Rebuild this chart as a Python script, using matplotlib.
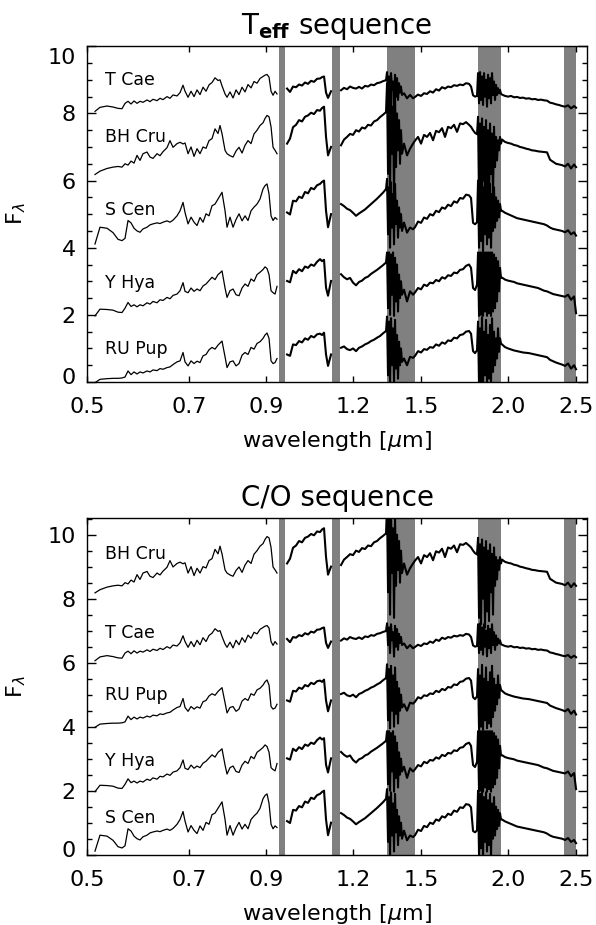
import numpy as np
import matplotlib
matplotlib.use("Agg")
import matplotlib.pyplot as plt
from matplotlib.ticker import FixedLocator, MultipleLocator, NullLocator
from matplotlib.transforms import ScaledTranslation

nan = np.nan

# wavelength grid [micron]; nan entries in the fluxes mark gaps in the data
wavelength = [
    0.5133, 0.5218, 0.5340, 0.5446, 0.5537, 0.5610, 0.5666, 0.5722, 0.5779, 0.5836,
    0.5894, 0.5952, 0.6011, 0.6091, 0.6151, 0.6212, 0.6295, 0.6357, 0.6420, 0.6505,
    0.6569, 0.6635, 0.6723, 0.6790, 0.6857, 0.6902, 0.6971, 0.7040, 0.7110, 0.7180,
    0.7251, 0.7323, 0.7396, 0.7469, 0.7543, 0.7618, 0.7693, 0.7744, 0.7795, 0.7873,
    0.7925, 0.8003, 0.8083, 0.8163, 0.8244, 0.8326, 0.8408, 0.8491, 0.8576, 0.8661,
    0.8747, 0.8833, 0.8921, 0.8980, 0.9039, 0.9099, 0.9159, 0.9220, 0.9281, 0.9341,
    0.950,
    0.9654, 0.9749, 0.9846, 0.9944, 1.0042, 1.0142, 1.0242, 1.0344, 1.0447, 1.0550,
    1.0655, 1.0760, 1.0831, 1.0903, 1.0975, 1.1047, 1.1157,
    1.135,
    1.1530, 1.1644, 1.1760, 1.1877, 1.1994, 1.2113, 1.2233, 1.2355, 1.2477, 1.2601,
    1.2726, 1.2852, 1.2980, 1.3108, 1.3238, 1.3370,
    1.3414, 1.3458, 1.3502, 1.3547, 1.3591, 1.3636, 1.3681, 1.3726, 1.3771, 1.3816,
    1.3861, 1.3907, 1.3953, 1.3998, 1.4044, 1.4091, 1.4185, 1.4326, 1.4468, 1.4612,
    1.4708, 1.4854, 1.5001, 1.5150, 1.5300, 1.5452, 1.5605, 1.5760, 1.5916, 1.6074,
    1.6233, 1.6394, 1.6557, 1.6721, 1.6887, 1.7054, 1.7224, 1.7394, 1.7567, 1.7683,
    1.7800, 1.7917, 1.8035,
    1.8095, 1.8154, 1.8214, 1.8274, 1.8334, 1.8394, 1.8455, 1.8515, 1.8576, 1.8637,
    1.8699, 1.8760, 1.8822, 1.8884, 1.8946, 1.9008, 1.9071, 1.9134, 1.9197, 1.9260,
    1.9323, 1.9387, 1.9451, 1.9515,
    1.9581, 1.9776, 1.9972, 2.0170, 2.0370, 2.0572, 2.0776, 2.0982, 2.1190, 2.1400,
    2.1612, 2.1827, 2.2043, 2.2262, 2.2483, 2.2706, 2.2931, 2.3158, 2.3388, 2.3620,
    2.3854, 2.4091, 2.4330, 2.4571, 2.4815, 2.4979,
]

# fluxes without vertical offset
t_cae = [
    0.06, 0.18, 0.22, 0.19, 0.15, 0.14, 0.30, 0.36, 0.28, 0.37,
    0.30, 0.36, 0.33, 0.40, 0.35, 0.42, 0.38, 0.45, 0.41, 0.50,
    0.45, 0.55, 0.52, 0.62, 0.84, 0.66, 0.48, 0.66, 0.50, 0.70,
    0.56, 0.78, 0.66, 0.85, 0.92, 1.06, 0.98, 1.00, 0.82, 0.58,
    0.48, 0.64, 0.46, 0.70, 0.56, 0.78, 0.64, 0.86, 0.76, 0.95,
    0.90, 1.04, 1.10, 1.14, 1.16, 1.08, 0.66, 0.54, 0.66, 0.58,
    nan,
    0.74, 0.64, 0.80, 0.78, 0.86, 0.83, 0.92, 0.88, 0.97, 0.94,
    1.03, 1.04, 1.08, 1.10, 0.62, 0.46, 0.66,
    nan,
    0.69, 0.76, 0.72, 0.80, 0.76, 0.74, 0.79, 0.74, 0.82, 0.80,
    0.86, 0.84, 0.90, 0.92, 0.96, 0.99,
    1.23, 0.55, 1.10, 0.30, 1.20, 0.70, 0.95, 0.19, 1.15, 0.50,
    1.05, 0.40, 0.90, 0.62, 0.80, 0.55, 0.60, 0.45, 0.55, 0.45,
    0.49, 0.56, 0.52, 0.60, 0.58, 0.66, 0.62, 0.72, 0.68, 0.78,
    0.74, 0.80, 0.78, 0.84, 0.82, 0.86, 0.84, 0.90, 0.88, 0.80,
    0.54, 0.50, 0.52,
    1.20, 0.30, 1.23, 0.40, 1.10, 0.25, 1.20, 0.50, 1.00, 0.20,
    1.15, 0.45, 1.05, 0.30, 1.20, 0.55, 0.95, 0.40, 0.85, 0.55,
    0.75, 0.60, 0.70, 0.58,
    0.56, 0.52, 0.50, 0.52, 0.48, 0.49, 0.46, 0.47, 0.44, 0.45,
    0.42, 0.43, 0.40, 0.41, 0.39, 0.38, 0.32, 0.30, 0.27, 0.25,
    0.22, 0.20, 0.24, 0.15, 0.22, 0.17,
]

bh_cru = [
    0.18, 0.28, 0.36, 0.40, 0.42, 0.40, 0.50, 0.46, 0.58, 0.52,
    0.75, 0.60, 0.80, 0.85, 0.70, 0.66, 0.80, 0.74, 0.86, 0.98,
    1.19, 0.99, 1.10, 1.14, 1.09, 1.12, 0.80, 1.00, 0.72, 0.95,
    0.80, 1.00, 0.96, 1.19, 1.25, 1.54, 1.40, 1.64, 1.40, 0.90,
    0.80, 0.74, 0.70, 0.88, 0.99, 0.82, 1.05, 1.19, 1.10, 1.39,
    1.50, 1.64, 1.72, 1.85, 1.94, 1.90, 1.60, 0.99, 0.90, 0.80,
    nan,
    1.10, 1.25, 1.59, 1.66, 1.80, 1.76, 1.90, 1.94, 2.02, 1.98,
    2.10, 2.08, 2.16, 2.20, 1.30, 0.75, 1.00,
    nan,
    1.05, 1.22, 1.30, 1.39, 1.36, 1.50, 1.46, 1.58, 1.55, 1.66,
    1.64, 1.76, 1.80, 1.89, 1.96, 2.04,
    2.90, 0.20, 2.50, -0.50, 2.70, 0.80, 2.20, -0.60, 2.60, 0.40,
    2.00, 0.90, 1.80, 0.50, 1.50, 0.80, 1.10, 0.75, 0.95, 1.10,
    1.19, 1.30, 1.10, 1.36, 1.30, 1.42, 1.20, 1.48, 1.44, 1.56,
    1.30, 1.60, 1.56, 1.66, 1.45, 1.70, 1.68, 1.74, 1.66, 1.60,
    1.50, 1.42, 1.38,
    1.90, -0.60, 1.70, -0.80, 1.85, 0.00, 1.60, -0.90, 1.80, -0.40,
    1.50, -0.70, 1.70, 0.20, 1.40, -0.50, 1.60, 0.40, 1.30, 0.60,
    1.20, 0.90, 1.30, 1.10,
    1.22, 1.15, 1.12, 1.10, 1.06, 1.04, 1.00, 0.98, 0.95, 0.93,
    0.90, 0.89, 0.87, 0.86, 0.85, 0.84, 0.62, 0.56, 0.50, 0.48,
    0.46, 0.42, 0.50, 0.36, 0.48, 0.40,
]

s_cen = [
    0.11, 0.61, 0.58, 0.45, 0.25, 0.21, 0.28, 0.81, 0.74, 0.58,
    0.50, 0.46, 0.56, 0.61, 0.68, 0.71, 0.74, 0.72, 0.76, 0.80,
    0.76, 0.82, 0.95, 1.10, 1.35, 1.05, 0.71, 0.91, 0.76, 0.66,
    0.90, 0.76, 1.01, 0.95, 1.25, 1.30, 1.45, 1.55, 1.65, 1.10,
    0.61, 0.91, 0.61, 0.84, 1.01, 0.80, 0.95, 0.81, 1.10, 1.21,
    1.30, 1.45, 1.75, 1.85, 1.90, 1.60, 0.95, 0.81, 0.90, 0.85,
    nan,
    1.05, 0.99, 1.40, 1.38, 1.52, 1.48, 1.66, 1.62, 1.78, 1.74,
    1.86, 1.90, 1.96, 2.00, 1.10, 0.61, 1.00,
    nan,
    1.30, 1.24, 1.16, 1.12, 1.04, 0.95, 1.02, 1.08, 1.14, 1.22,
    1.30, 1.38, 1.46, 1.55, 1.64, 1.75,
    2.05, 0.40, 1.80, 0.00, 1.95, 0.60, 1.60, 0.10, 1.90, 0.70,
    1.40, 0.30, 1.20, 0.60, 1.00, 0.50, 0.75, 0.45, 0.60, 0.55,
    0.61, 0.78, 0.74, 0.90, 0.86, 1.00, 0.96, 1.10, 1.06, 1.20,
    1.16, 1.28, 1.24, 1.38, 1.34, 1.48, 1.46, 1.58, 1.56, 1.48,
    0.74, 0.70, 0.76,
    2.00, 0.00, 1.90, 0.20, 2.00, -0.10, 1.80, 0.40, 1.95, 0.10,
    1.70, 0.30, 1.90, 0.00, 1.60, 0.50, 1.80, 0.60, 1.50, 0.80,
    1.40, 0.90, 1.30, 1.10,
    1.10, 1.04, 1.00, 0.96, 0.92, 0.88, 0.86, 0.84, 0.82, 0.80,
    0.78, 0.76, 0.74, 0.72, 0.70, 0.66, 0.60, 0.56, 0.54, 0.52,
    0.50, 0.46, 0.52, 0.40, 0.46, 0.36,
]

y_hya = [
    -0.03, 0.17, 0.16, 0.14, 0.08, 0.07, 0.20, 0.37, 0.25, 0.30,
    0.24, 0.30, 0.27, 0.36, 0.32, 0.40, 0.36, 0.45, 0.43, 0.52,
    0.48, 0.58, 0.62, 0.72, 0.96, 0.70, 0.66, 0.80, 0.70, 0.77,
    0.72, 0.86, 0.92, 1.02, 1.12, 1.05, 1.20, 1.25, 1.31, 0.80,
    0.52, 0.72, 0.77, 0.60, 0.57, 0.80, 0.92, 0.85, 1.07, 1.00,
    1.20, 1.27, 1.35, 1.43, 1.38, 1.20, 0.72, 0.66, 0.62, 0.85,
    nan,
    1.01, 0.97, 1.31, 1.24, 1.36, 1.30, 1.44, 1.40, 1.50, 1.46,
    1.58, 1.66, 1.60, 1.64, 0.81, 0.57, 1.01,
    nan,
    1.21, 1.12, 1.06, 1.10, 0.96, 0.88, 0.98, 1.02, 1.10, 1.14,
    1.22, 1.28, 1.34, 1.41, 1.48, 1.56,
    1.86, 0.20, 1.86, 0.00, 1.80, 0.60, 1.86, -0.03, 1.70, 0.40,
    1.50, 0.10, 1.20, 0.50, 1.00, 0.60, 0.75, 0.40, 0.70, 0.60,
    0.67, 0.80, 0.76, 0.90, 0.86, 0.96, 0.94, 1.04, 1.00, 1.12,
    1.08, 1.18, 1.16, 1.26, 1.24, 1.34, 1.36, 1.46, 1.50, 1.40,
    0.80, 0.74, 0.90,
    1.86, -0.03, 1.86, 0.00, 1.86, -0.03, 1.86, 0.10, 1.86, -0.03,
    1.86, 0.05, 1.86, -0.03, 1.86, 0.10, 1.80, 0.20, 1.70, 0.40,
    1.60, 0.70, 1.40, 1.10,
    1.11, 1.05, 1.02, 1.00, 0.98, 0.94, 0.92, 0.90, 0.88, 0.86,
    0.84, 0.82, 0.80, 0.76, 0.72, 0.70, 0.66, 0.62, 0.60, 0.58,
    0.56, 0.54, 0.60, 0.45, 0.55, 0.05,
]

ru_pup = [
    -0.02, 0.08, 0.10, 0.11, 0.11, 0.12, 0.15, 0.33, 0.22, 0.30,
    0.24, 0.30, 0.27, 0.33, 0.30, 0.36, 0.34, 0.40, 0.38, 0.43,
    0.45, 0.52, 0.60, 0.63, 0.88, 0.60, 0.48, 0.63, 0.55, 0.62,
    0.58, 0.78, 0.82, 0.96, 1.03, 0.98, 1.10, 1.16, 1.22, 0.75,
    0.43, 0.60, 0.63, 0.48, 0.55, 0.80, 0.88, 0.82, 1.03, 0.98,
    1.15, 1.20, 1.30, 1.40, 1.46, 1.30, 0.63, 0.55, 0.58, 0.70,
    nan,
    0.82, 0.78, 1.12, 1.10, 1.22, 1.18, 1.30, 1.26, 1.37, 1.33,
    1.42, 1.44, 1.40, 1.47, 0.82, 0.48, 0.82,
    nan,
    1.02, 1.06, 0.98, 0.95, 1.00, 0.92, 1.02, 1.06, 1.12, 1.16,
    1.22, 1.26, 1.32, 1.37, 1.45, 1.52,
    1.95, 0.20, 1.80, -0.05, 1.90, 0.50, 1.60, 0.00, 1.85, 0.40,
    1.40, 0.10, 1.20, 0.50, 1.00, 0.60, 0.70, 0.50, 0.75, 0.72,
    0.78, 0.92, 0.88, 0.98, 0.96, 1.04, 1.02, 1.12, 1.08, 1.18,
    1.14, 1.24, 1.22, 1.32, 1.30, 1.40, 1.42, 1.50, 1.52, 1.44,
    0.92, 0.86, 0.95,
    1.80, -0.10, 1.60, 0.00, 1.93, -0.10, 1.50, 0.20, 1.85, -0.05,
    1.40, 0.10, 1.70, 0.00, 1.90, 0.30, 1.50, 0.50, 1.30, 0.70,
    1.60, 0.90, 1.30, 1.15,
    1.12, 1.04, 1.00, 0.97, 0.94, 0.92, 0.90, 0.88, 0.87, 0.86,
    0.84, 0.82, 0.80, 0.78, 0.76, 0.74, 0.66, 0.62, 0.58, 0.55,
    0.52, 0.48, 0.55, 0.40, 0.50, 0.38,
]

star_names = ["T Cae", "BH Cru", "S Cen", "Y Hya", "RU Pup"]
spectra = {"T Cae": t_cae, "BH Cru": bh_cru, "S Cen": s_cen,
           "Y Hya": y_hya, "RU Pup": ru_pup}

# vertical offsets and label heights per panel
teff_offsets = {"T Cae": 8, "BH Cru": 6, "S Cen": 4, "Y Hya": 2, "RU Pup": 0}
co_offsets = {"BH Cru": 8, "T Cae": 6, "RU Pup": 4, "Y Hya": 2, "S Cen": 0}
teff_label_y = {"T Cae": 9.0, "BH Cru": 7.31, "S Cen": 5.13, "Y Hya": 2.96, "RU Pup": 0.97}
co_label_y = {"BH Cru": 9.38, "T Cae": 6.94, "RU Pup": 4.99, "Y Hya": 2.93, "S Cen": 1.15}

telluric_bands = [(0.94, 0.96), (1.12, 1.15), (1.34, 1.47), (1.81, 1.95), (2.40, 2.50)]
x_ticks = [0.5, 0.7, 0.9, 1.2, 1.5, 2.0, 2.5]
x_ticklabels = ["0.5", "0.7", "0.9", "1.2", "1.5", "2.0", "2.5"]

fig = plt.figure(figsize=(5.96, 9.25), dpi=100)
ax_top = fig.add_axes([0.146, 0.587, 0.839, 0.363])
ax_bot = fig.add_axes([0.146, 0.076, 0.839, 0.364])

panels = [
    (ax_top, r"T$_{\mathbf{eff}}$ sequence", teff_offsets, teff_label_y, 10.0),
    (ax_bot, "C/O sequence", co_offsets, co_label_y, 10.52),
]

wave = np.array(wavelength)
optical = wave < 0.945   # the near-IR part is noisier, drawn heavier
for ax, title, offsets, label_y, ymax in panels:
    for lo, hi in telluric_bands:
        ax.axvspan(lo, hi, color="#808080", lw=0, zorder=0)
    for name in star_names:
        flux = np.array(spectra[name]) + offsets[name]
        ax.plot(wave[optical], flux[optical], color="black", lw=0.9, zorder=2)
        ax.plot(wave[~optical], flux[~optical], color="black", lw=1.5, zorder=2)
        ax.text(0.531, label_y[name], name, fontsize=12.5, va="center",
                ha="left", zorder=3)

    ax.set_xscale("log")
    ax.set_xlim(0.5, 2.59)
    ax.set_ylim(0, ymax)
    ax.xaxis.set_major_locator(FixedLocator(x_ticks))
    ax.xaxis.set_minor_locator(NullLocator())
    ax.set_xticklabels(x_ticklabels)
    ax.yaxis.set_major_locator(FixedLocator([0, 2, 4, 6, 8, 10]))
    ax.yaxis.set_minor_locator(MultipleLocator(0.5))
    ax.tick_params(axis="both", which="both", direction="in", top=True, right=True,
                   width=1.0, labelsize=16)
    ax.tick_params(axis="x", which="major", length=4, pad=11)
    ax.tick_params(axis="y", which="major", length=6.5, pad=8)
    ax.tick_params(axis="y", which="minor", length=3.6)
    for spine in ax.spines.values():
        spine.set_linewidth(1.0)

    ax.set_title(title, fontsize=20, pad=9)
    ax.set_ylabel(r"F$_\lambda$", fontsize=16, labelpad=14)
    ax.text(0.5, -0.194, r"wavelength [$\mu$m]", transform=ax.transAxes,
            ha="center", va="baseline", fontsize=16)

    # end labels sit a little inside the frame, as in the original
    labels = ax.get_yticklabels()
    labels[0].set_transform(labels[0].get_transform()
                            + ScaledTranslation(0, 6 / 100, fig.dpi_scale_trans))
    if ymax == 10.0:
        labels[-1].set_transform(labels[-1].get_transform()
                                 + ScaledTranslation(0, -10 / 100, fig.dpi_scale_trans))

fig.savefig("out.png", dpi=100)
